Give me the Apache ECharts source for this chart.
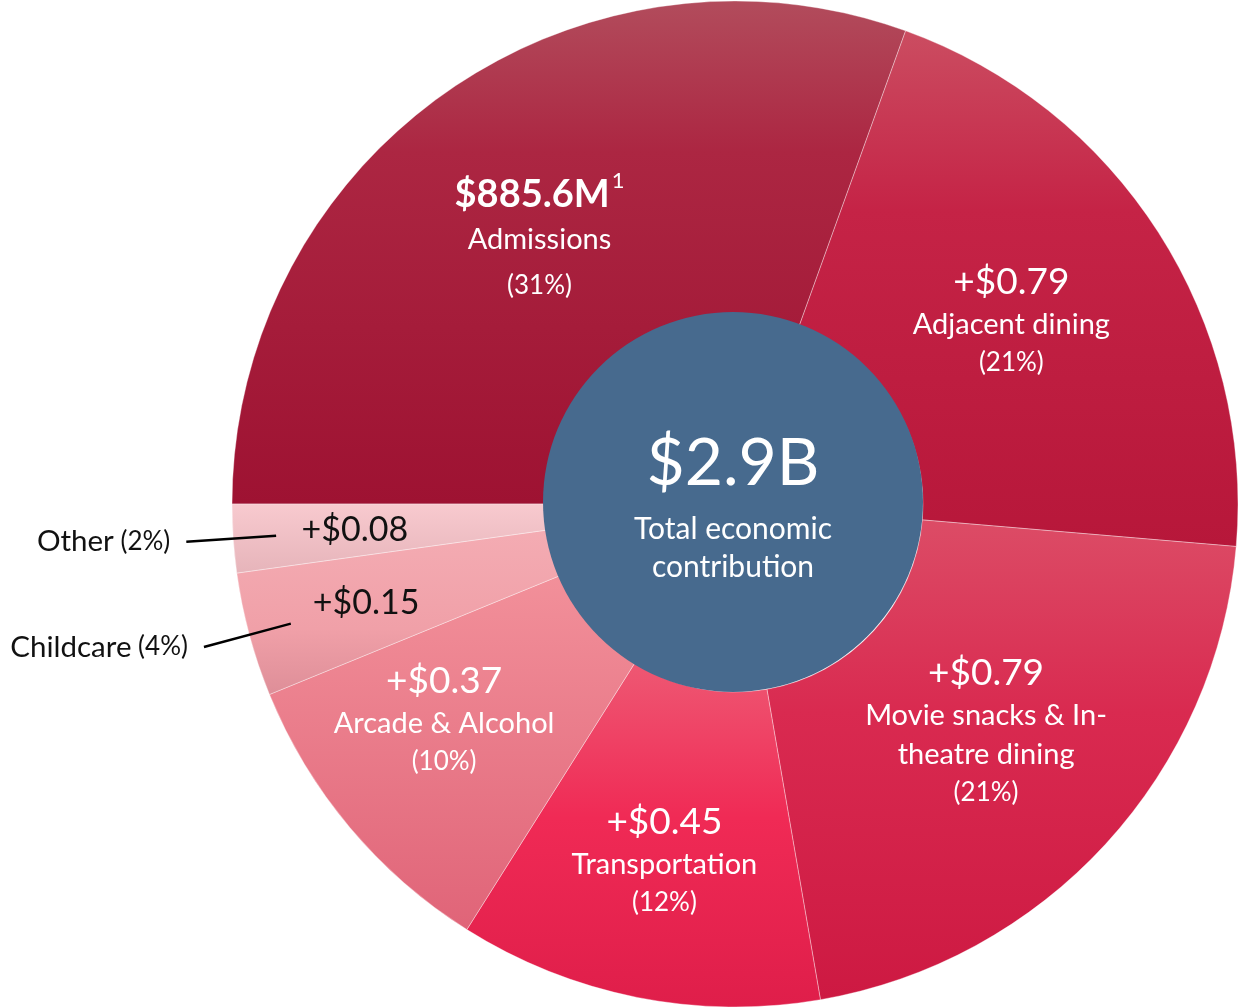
<!DOCTYPE html>
<html>
<head>
<meta charset="utf-8">
<script src="https://cdn.jsdelivr.net/npm/echarts@6/dist/echarts.min.js"></script>
<style>
  html, body { margin: 0; padding: 0; background: #fff; }
  #main-chart { width: 1241px; height: 1008px; }
</style>
</head>
<body>
<div id="main-chart"></div>
<script>
// slice data (clockwise from 9 o'clock)
const categories = ['Admissions', 'Adjacent dining', 'Movie snacks & In-\ntheatre dining', 'Transportation', 'Arcade & Alcohol', 'Childcare', 'Other'];
const shares = [30.6, 20.9, 21.0, 11.7, 9.9, 4.0, 2.2];
const amountLabels = ['$885.6M', '+$0.79', '+$0.79', '+$0.45', '+$0.37', '+$0.15', '+$0.08'];
const pctLabels = ['31%', '21%', '21%', '12%', '10%', '4%', '2%'];
const totalLabel = '$2.9B';
const totalCaption = ['Total economic', 'contribution'];

document.addEventListener('DOMContentLoaded', () => {
    const chartContainer = document.getElementById('main-chart');
    const myChart = echarts.init(chartContainer);

    const CX = 735, CY = 504, R = 503, R_HOLE = 190;
    const FONT = 'Lato, "Open Sans", sans-serif';

    // gradient stops per slice (top -> bottom)
    const sliceStops = [
        [[0, '#B24C5C'], [0.3, '#AC2642'], [1, '#9E1232']],
        [[0, '#CB4D61'], [0.35, '#C52346'], [1, '#B7173A']],
        [[0, '#DC4C66'], [0.4, '#D92A50'], [1, '#CD1942']],
        [[0, '#EE5873'], [0.45, '#F02A55'], [1, '#DF1E4A']],
        [[0, '#F2909A'], [1, '#E06478']],
        [[0, '#F4ACB3'], [0.6, '#F0A0A8'], [1, '#DE8E98']],
        [[0, '#F8CACF'], [1, '#E6B4BA']]
    ];
    const labelRadius = [328, 332, 338, 363, 362, 382, 381];
    const labelAngleShift = [-1.5, -1, -0.5, 0, 3.5, 0, 0];
    const outerLabel = [false, false, false, false, false, true, true];
    const outerName = ['', '', '', '', '', 'Childcare', 'Other'];

    // mid angle of each slice, clockwise from 12 o'clock, starting at 9 o'clock
    const total = shares.reduce((a, b) => a + b, 0);
    const midAngles = [];
    let acc = 270;
    shares.forEach((s, i) => {
        const span = s / total * 360;
        midAngles.push((acc + span / 2 + labelAngleShift[i]) * Math.PI / 180);
        acc += span;
    });

    const mainData = categories.map((name, i) => ({
        name: name,
        value: shares[i],
        itemStyle: {
            color: {
                type: 'linear', x: 0, y: 0, x2: 0, y2: 1,
                colorStops: sliceStops[i].map(s => ({ offset: s[0], color: s[1] }))
            }
        }
    }));

    const outerData = categories.map((name, i) => ({
        name: name,
        value: shares[i],
        label: { show: outerLabel[i] },
        labelLine: { show: outerLabel[i] }
    }));

    const option = {
        animation: false,
        backgroundColor: '#ffffff',
        series: [
            {
                type: 'pie',
                center: [CX, CY],
                radius: [R_HOLE - 2, R],
                startAngle: 180,
                clockwise: true,
                avoidLabelOverlap: false,
                silent: true,
                itemStyle: { borderColor: 'rgba(255,255,255,0.35)', borderWidth: 1 },
                label: {
                    show: true,
                    position: 'inside',
                    fontFamily: FONT,
                    color: '#ffffff',
                    formatter: (p) => {
                        const i = p.dataIndex;
                        if (i === 0) {
                            return `{vb|${amountLabels[i]}}{sup|1}\n{n|${categories[i]}}\n{pa|(${pctLabels[i]})}`;
                        }
                        if (outerLabel[i]) {
                            return `{d|${amountLabels[i]}}`;
                        }
                        return `{v|${amountLabels[i]}}\n{n|${categories[i]}}\n{p|(${pctLabels[i]})}`;
                    },
                    rich: {
                        vb: { fontFamily: FONT, fontSize: 38, fontWeight: 'bold', color: '#fff', lineHeight: 50 },
                        sup: { fontFamily: FONT, fontSize: 22, color: '#fff', verticalAlign: 'top', lineHeight: 50, padding: [0, 0, 16, 2] },
                        v: { fontFamily: FONT, fontSize: 37, color: '#fff', lineHeight: 46 },
                        n: { fontFamily: FONT, fontSize: 29, color: '#fff', lineHeight: 39 },
                        p: { fontFamily: FONT, fontSize: 26, color: '#fff', lineHeight: 37 },
                        pa: { fontFamily: FONT, fontSize: 26, color: '#fff', lineHeight: 52 },
                        d: { fontFamily: FONT, fontSize: 34, color: '#111', lineHeight: 42 }
                    }
                },
                labelLine: { show: false },
                labelLayout: (params) => {
                    const i = params.dataIndex;
                    const a = midAngles[i];
                    return {
                        x: CX + labelRadius[i] * Math.sin(a),
                        y: CY - labelRadius[i] * Math.cos(a),
                        align: 'center',
                        verticalAlign: 'middle'
                    };
                },
                data: mainData
            },
            {
                // transparent copy that only carries the two call-out labels
                type: 'pie',
                center: [CX, CY],
                radius: [0, 460],
                startAngle: 180,
                clockwise: true,
                avoidLabelOverlap: false,
                silent: true,
                z: 3,
                itemStyle: { color: 'transparent', borderWidth: 0 },
                label: {
                    position: 'outside',
                    distanceToLabelLine: 16,
                    fontFamily: FONT,
                    color: '#111',
                    formatter: (p) => `{a|${outerName[p.dataIndex]}}{b| (${pctLabels[p.dataIndex]})}`,
                    rich: {
                        a: { fontFamily: FONT, fontSize: 29.5, color: '#111' },
                        b: { fontFamily: FONT, fontSize: 26, color: '#111' }
                    }
                },
                labelLine: {
                    length: 90,
                    length2: 0,
                    lineStyle: { color: '#000', width: 2.5 }
                },
                data: outerData
            },
            {
                type: 'pie',
                center: [733, 502],
                radius: [0, R_HOLE],
                silent: true,
                z: 4,
                itemStyle: { color: '#476A8E' },
                label: {
                    show: true,
                    position: 'center',
                    formatter: () => `{big|${totalLabel}}\n{cap|${totalCaption[0]}}\n{cap|${totalCaption[1]}}`,
                    rich: {
                        big: { fontFamily: FONT, fontSize: 66, color: '#fff', lineHeight: 92 },
                        cap: { fontFamily: FONT, fontSize: 30, color: '#fff', lineHeight: 38 }
                    }
                },
                labelLine: { show: false },
                data: [{ name: 'total', value: 1 }]
            }
        ]
    };
    myChart.setOption(option);
});
</script>
</body>
</html>
